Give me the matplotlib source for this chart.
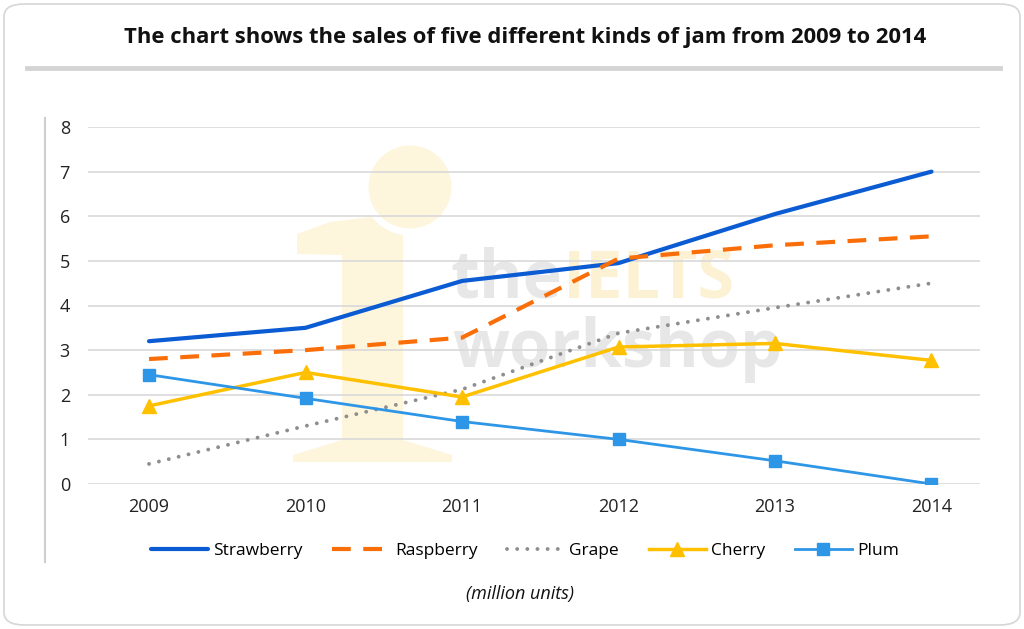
import matplotlib
matplotlib.use("Agg")
import matplotlib.pyplot as plt
from matplotlib.patches import FancyBboxPatch, Ellipse, Polygon
from matplotlib.lines import Line2D

years = ["2009", "2010", "2011", "2012", "2013", "2014"]
strawberry = [3.2, 3.5, 4.55, 4.95, 6.05, 7.0]
raspberry = [2.8, 3.0, 3.28, 5.05, 5.35, 5.55]
grape = [0.45, 1.3, 2.12, 3.38, 3.95, 4.5]
cherry = [1.75, 2.5, 1.95, 3.07, 3.15, 2.77]
plum = [2.45, 1.92, 1.4, 1.0, 0.52, 0.0]
y_ticks = [0, 1, 2, 3, 4, 5, 6, 7, 8]

plt.rcParams['font.family'] = ['Open Sans', 'DejaVu Sans']

W, H = 1024, 629
fig = plt.figure(figsize=(W / 100, H / 100), dpi=100)
fig.patch.set_facecolor('white')


def fx(px):
    return px / W


def fy(py):
    return 1 - py / H


# outer rounded border
border = FancyBboxPatch((fx(4), 4 / H), (W - 8) / W, (H - 8) / H,
                        boxstyle="round,pad=0,rounding_size=0.02",
                        transform=fig.transFigure, facecolor='none',
                        edgecolor='#d6d6d6', linewidth=1.2, zorder=-5)
fig.patches.append(border)

# watermark (decoration, behind everything)
wm_yellow = '#fdf5dc'
wm_grey = '#e7e7e7'
stem_px = [(297, 234), (330, 222), (370, 217), (403, 220), (403, 440), (452, 455),
           (452, 462), (293, 462), (293, 455), (342, 440), (342, 255), (297, 254)]
stem = Polygon([(fx(a), fy(b)) for a, b in stem_px], closed=True,
               transform=fig.transFigure, facecolor=wm_yellow, edgecolor='none', zorder=-4.5)
fig.patches.append(stem)
dot = Ellipse((fx(410), fy(187)), 90 / W, 90 / H, transform=fig.transFigure,
              facecolor=wm_yellow, edgecolor='white', linewidth=5, zorder=-4)
fig.patches.append(dot)
fig.text(fx(451), fy(297), "the", ha='left', va='baseline', fontsize=48,
         fontweight='bold', color=wm_grey, zorder=-3)
fig.text(fx(563), fy(297), "IELTS", ha='left', va='baseline', fontsize=48,
         fontweight='bold', color='#fcf1d2', zorder=-3)
fig.text(fx(452), fy(367), "workshop", ha='left', va='baseline', fontsize=48,
         fontweight='bold', color=wm_grey, zorder=-3)

# title
fig.text(fx(525), fy(38),
         "The chart shows the sales of five different kinds of jam from 2009 to 2014",
         ha='center', va='center', fontsize=15.8, fontweight='bold', color='#111111')
# grey rule under the title
fig.add_artist(Line2D([fx(27), fx(1000)], [fy(68), fy(68)],
                      transform=fig.transFigure, color='#d4d4d4', linewidth=3.5))
# left vertical rule
fig.add_artist(Line2D([fx(45), fx(45)], [fy(118), fy(562)],
                      transform=fig.transFigure, color='#cfcfcf', linewidth=1.5))

ax = fig.add_axes([fx(88), 145 / H, (980 - 88) / W, (484 - 127) / H])
ax.patch.set_alpha(0)
x = list(range(len(years)))

ax.plot(x, strawberry, color='#0B5BD3', linewidth=3, label='Strawberry', solid_capstyle='round')
ax.plot(x, raspberry, color='#FA6E0A', linewidth=3, linestyle=(0, (4.5, 3)), label='Raspberry')
ax.plot(x, grape, color='#8E8E8E', linewidth=2.8, linestyle=(0, (0.01, 2.6)),
        dash_capstyle='round', label='Grape')
ax.plot(x, cherry, color='#FFC000', linewidth=2.5, marker='^', markersize=10, label='Cherry')
ax.plot(x, plum, color='#2E96E6', linewidth=2, marker='s', markersize=9, label='Plum')

ax.set_ylim(0, 8)
ax.set_xlim(-0.39, 5.31)
ax.set_yticks(y_ticks)
ax.set_yticklabels([str(t) for t in y_ticks])
ax.set_xticks(x)
ax.set_xticklabels(years)
ax.tick_params(axis='both', length=0, labelsize=13, colors='#222222')
ax.tick_params(axis='y', pad=13)
ax.tick_params(axis='x', pad=10)
ax.grid(axis='y', color='#d9d9d9', linewidth=1.2, zorder=0)
ax.set_axisbelow(True)
for s in ax.spines.values():
    s.set_visible(False)

fig.legend(loc='center', bbox_to_anchor=(fx(525), fy(551)), ncol=5, frameon=False,
           fontsize=12.5, handlelength=3.3, columnspacing=1.7, handletextpad=0.3)

fig.text(fx(520), fy(594), "(million units)", ha='center', va='center',
         fontsize=13, style='italic', color='#111111')

fig.savefig("out.png", dpi=100, facecolor='white')
